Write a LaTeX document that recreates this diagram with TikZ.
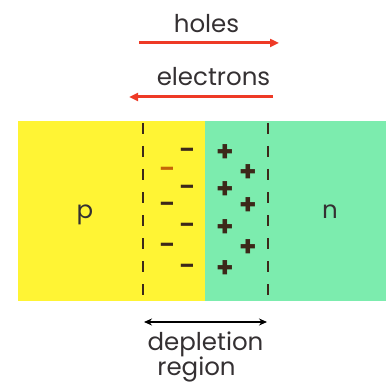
\documentclass[tikz,border=0pt]{standalone}
\usepackage{fontspec}
\setmainfont{Poppins}
\usetikzlibrary{arrows.meta}
\definecolor{pyellow}{RGB}{255,244,52}
\definecolor{ngreen}{RGB}{124,236,174}
\definecolor{arrred}{RGB}{238,58,38}
\definecolor{txt}{RGB}{52,48,50}
\definecolor{chg}{RGB}{60,40,25}
\tikzset{
  lbl/.style={inner sep=0pt, text=txt, font=\fontsize{24.5}{26}\selectfont},
  sign/.style={inner sep=0pt, text=chg, font=\fontsize{22}{24}\selectfont\bfseries},
  psign/.style={sign, font=\fontsize{28}{30}\selectfont\bfseries},
  flow/.style={draw=arrred, line width=3pt, -{Triangle[length=9pt,width=8pt]}},
  edge/.style={draw=chg, line width=1.8pt, dash pattern=on 11pt off 12pt},
}
\begin{document}
\begin{tikzpicture}[x=1pt,y=-1pt]
\useasboundingbox (0,0) rectangle (386,387);
% regions
\fill[pyellow] (18,121) rectangle (205,301);
\fill[ngreen] (205,121) rectangle (386,301);
% boundaries of depletion region
\coordinate (lt) at (143,123);
\coordinate (lb) at (143,301);
\coordinate (rt) at (268,123);
\coordinate (rb) at (268,301);
\draw[edge] (lt) -- (lb);
\draw[edge] (rt) -- (rb);
% labels p and n
\node[lbl, anchor=base] (p) at (85,218) {p};
\node[lbl, anchor=base] (n) at (330,218) {n};
% negative charges
\foreach \x/\y/\c [count=\i] in {187/153/chg,167/172/orange!70!chg,187/190/chg,167/207/chg,187/228/chg,167/248/chg,187/269/chg}{
  \node[sign, text=\c] (m\i) at (\x,\y) {–};
}
% positive charges
\foreach \x/\y [count=\i] in {225/153,248/173,225/190,248/206,225/228,248/248,225/269}{
  \node[psign] (q\i) at (\x,\y) {+};
}
% top labels and arrows
\node[lbl, anchor=base] (holes) at (206.5,33) {holes};
\coordinate (h1) at (139,43);
\coordinate (h2) at (279,43);
\draw[flow] (h1) -- (h2);
\node[lbl, anchor=base] (electrons) at (213.5,86) {electrons};
\coordinate (e1) at (273,97);
\coordinate (e2) at (129,97);
\draw[flow] (e1) -- (e2);
% depletion region
\coordinate (d1) at (144,322);
\coordinate (d2) at (267,322);
\draw[draw=black, line width=1.5pt, {Stealth[length=8pt,width=7pt]}-{Stealth[length=8pt,width=7pt]}] (d1) -- (d2);
\node[lbl, anchor=base] (dep) at (205.5,350) {depletion};
\node[lbl, anchor=base] (reg) at (196.5,375) {region};
\end{tikzpicture}
\end{document}
